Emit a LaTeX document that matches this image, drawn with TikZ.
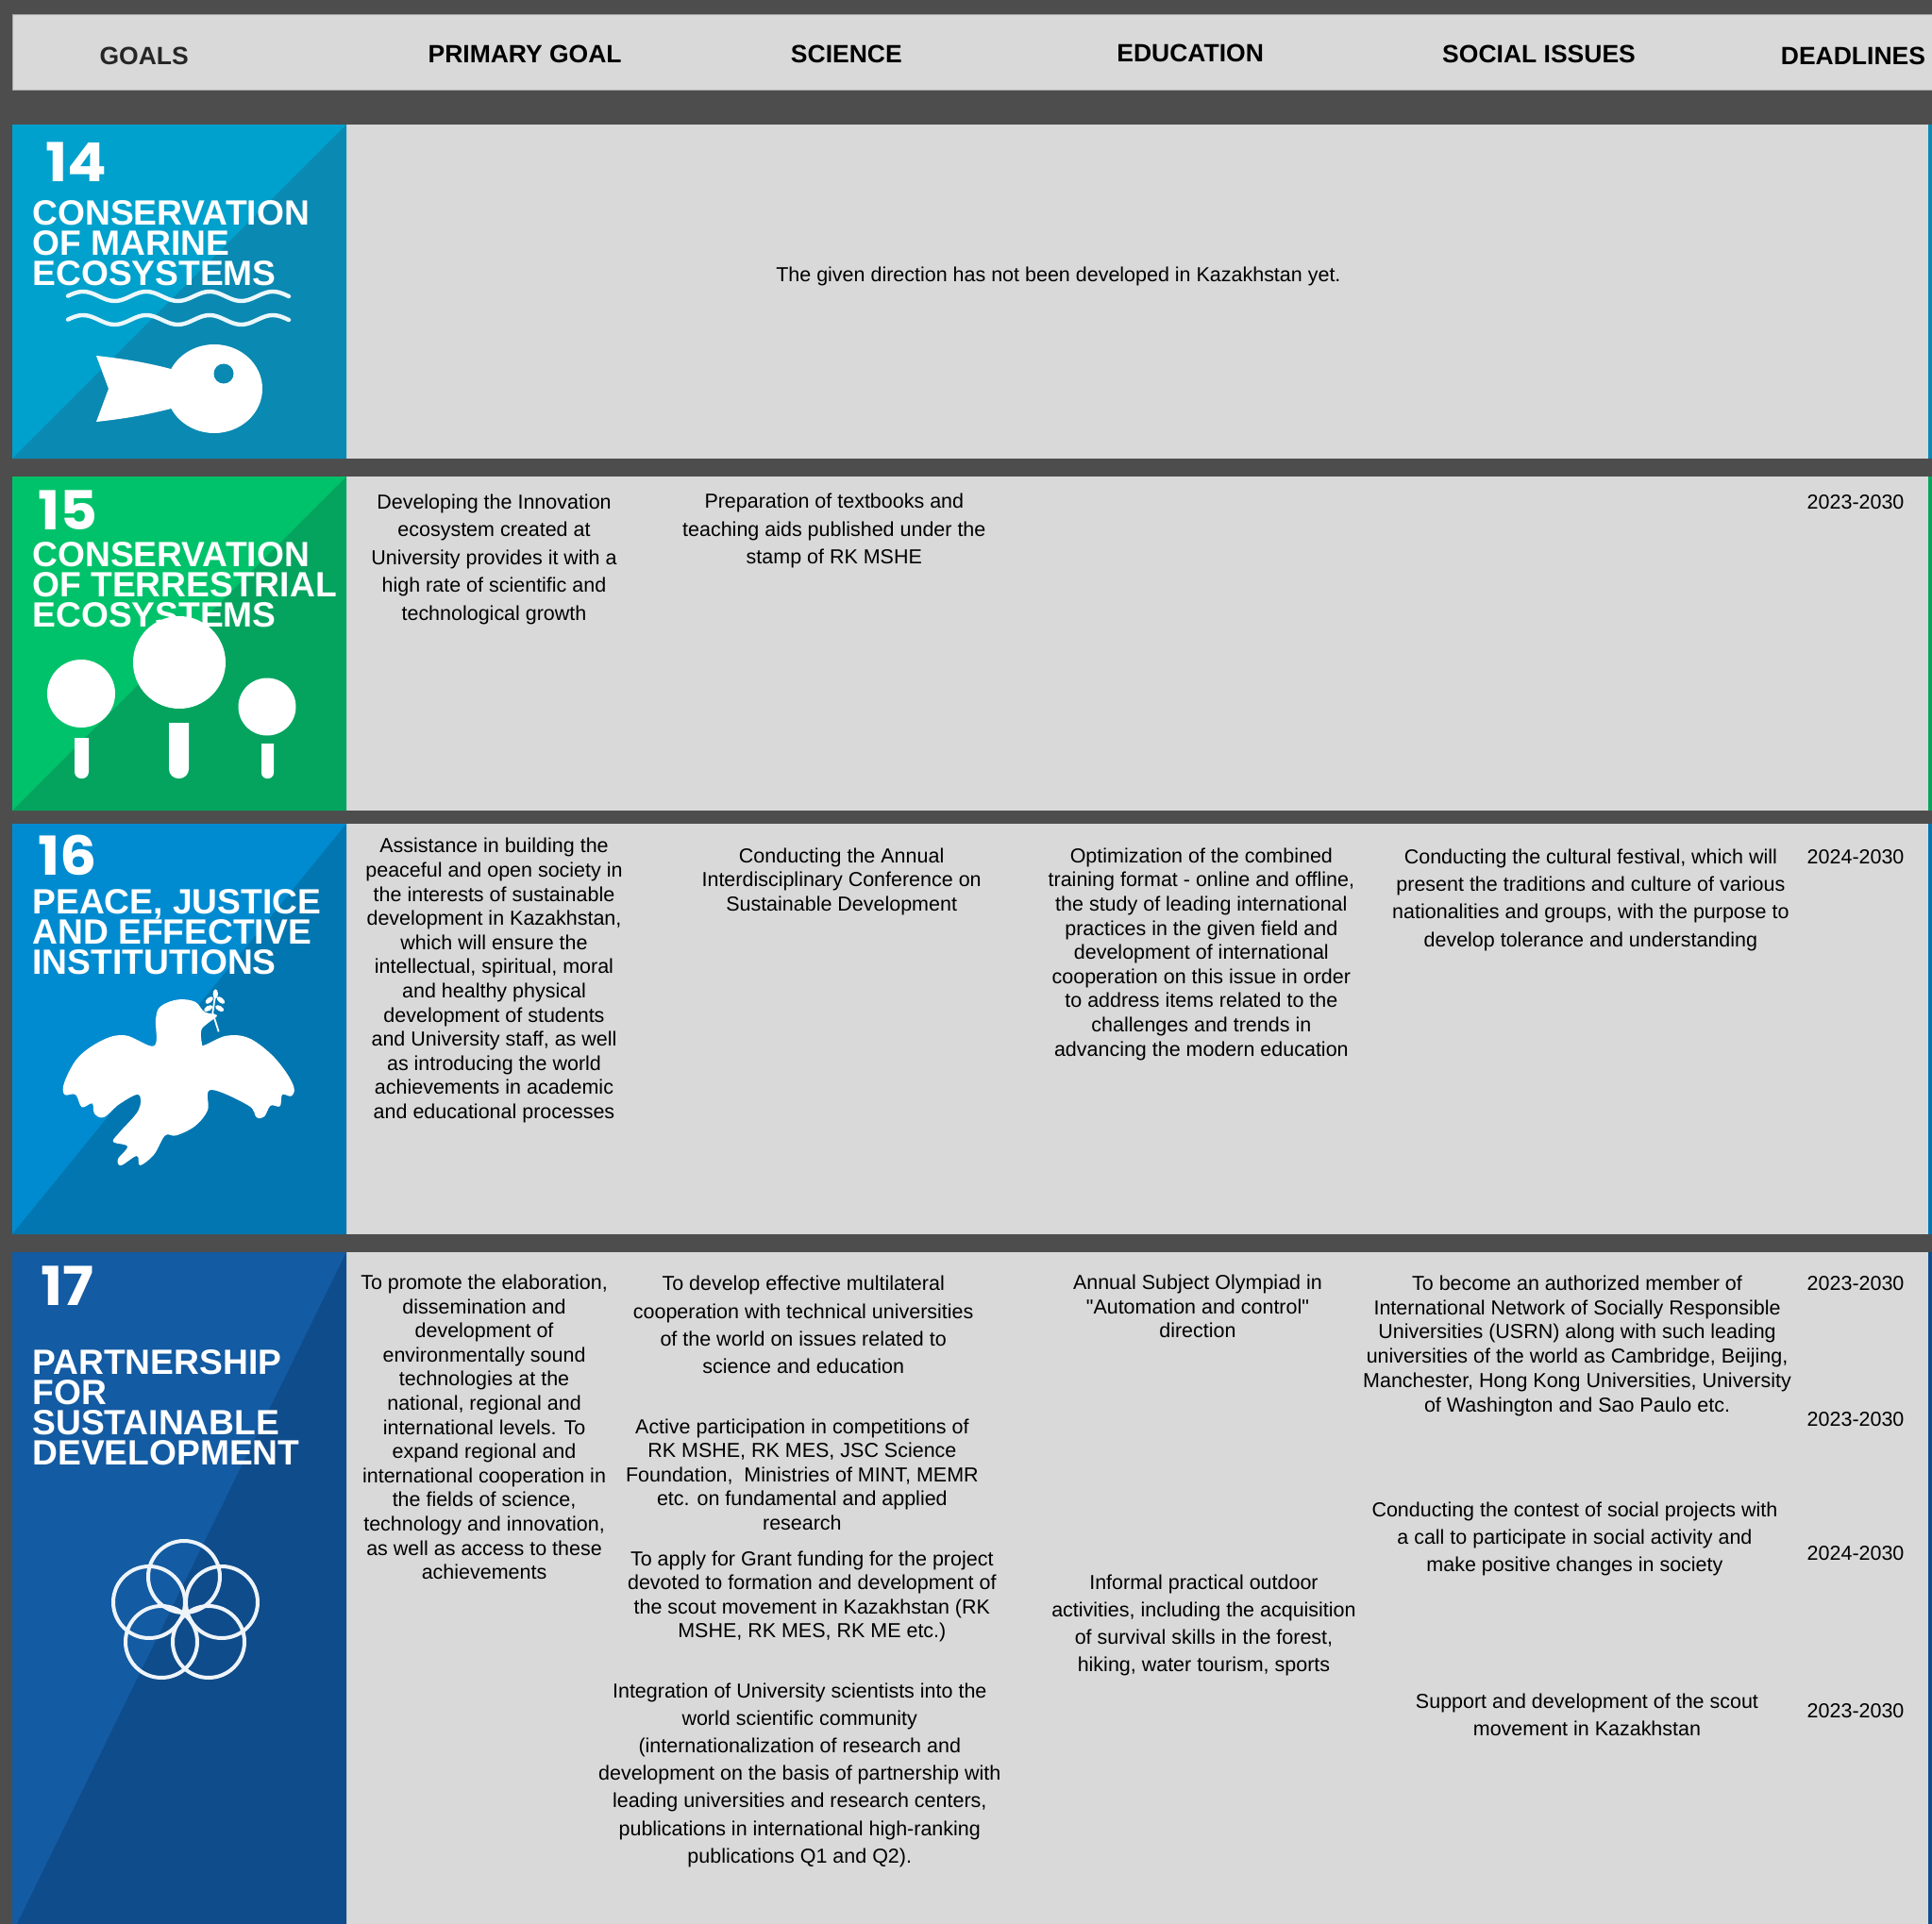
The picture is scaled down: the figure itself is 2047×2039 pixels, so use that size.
\documentclass[tikz,border=0pt]{standalone}
\usepackage{fontspec}
\setmainfont{Liberation Sans}
\newfontfamily\numfont{Poppins}
\newfontfamily\plainq{Liberation Sans}
\definecolor{bgc}{HTML}{4D4D4D}
\definecolor{panelc}{HTML}{D9D9D9}
\definecolor{aL}{HTML}{00A1CC}\definecolor{aD}{HTML}{0A89B2}
\definecolor{bL}{HTML}{00C26A}\definecolor{bD}{HTML}{04A45F}
\definecolor{cL}{HTML}{008BD0}\definecolor{cD}{HTML}{0176B0}
\definecolor{dL}{HTML}{135BA3}\definecolor{dD}{HTML}{0F4C8B}
\tikzset{
  panel/.style={fill=panelc,draw=none},
  headtxt/.style={font=\bfseries\fontsize{13.25pt}{15pt}\selectfont,text=black,inner sep=0pt},
  tiletxt/.style={font=\bfseries\fontsize{18.6pt}{16pt}\selectfont,text=white,inner sep=0pt,align=left,anchor=north west},
  numtxt/.style={font=\numfont\bfseries\fontsize{28.5pt}{30pt}\selectfont,text=white,inner sep=0pt,anchor=base west,xscale=1.08,transform shape},
  iconfill/.style={fill=white,draw=none},
  wave/.style={draw=white!92!aL,line width=2.2pt,line cap=round,smooth},
  ring/.style={draw=white!93!dL,line width=2pt},
}
% block of centred text: name, x, y (in 1568-wide units), line spacing (pt), text
\newcommand{\bk}[5]{\node[inner sep=0pt,align=center,text=black,font=\fontsize{10.74pt}{#4pt}\selectfont] (#1) at ({#2*1.3055},{#3*1.3055}) {#5};}
% bicolour tile: x-end of the diagonal, y top, y bottom, colours
\newcommand{\tile}[5]{\fill[#4] (13,#2) rectangle (367,#3);\fill[#5] (367,#2) -- (#1,#3) -- (367,#3) -- cycle;}
\begin{document}
\begin{tikzpicture}[x=0.5pt,y=-0.5pt]
\useasboundingbox (0,0) rectangle (2047,2039);
\fill[bgc] (0,0) rectangle (2047,2039);
\begin{scope}
\clip (0,0) rectangle (2047,2039);
% header
\fill[panelc,draw=black!35] (13,15) rectangle (2060,95);
\node[headtxt,text=black!85] (hgoals) at ({117*1.3055},{45.5*1.3055}) {GOALS};
\node[headtxt] (hprim) at ({426*1.3055},{44*1.3055}) {PRIMARY GOAL};
\node[headtxt] (hsci) at ({687*1.3055},{44*1.3055}) {SCIENCE};
\node[headtxt] (hedu) at ({966*1.3055},{43*1.3055}) {EDUCATION};
\node[headtxt] (hsoc) at ({1249*1.3055},{44*1.3055}) {SOCIAL ISSUES};
\node[headtxt] (hdead) at ({1504*1.3055},{45.5*1.3055}) {DEADLINES};
% panels and right edge
\fill[aD] (2040,132) rectangle (2047,486);
\fill[bD] (2040,505) rectangle (2047,859);
\fill[cD] (2040,873) rectangle (2047,1308);
\fill[dD] (2040,1327) rectangle (2047,2039);
\fill[panel] (367,132) rectangle (2043,486);
\fill[panel] (367,505) rectangle (2043,859);
\fill[panel] (367,873) rectangle (2043,1308);
\fill[panel] (367,1327) rectangle (2043,2039);
% tiles
\tile{13}{132}{486}{aL}{aD}
\tile{13}{505}{859}{bL}{bD}
\tile{13}{873}{1308}{cL}{cD}
\tile{18}{1327}{2039}{dL}{dD}
% numbers
\node[numtxt] (n14) at (48,192) {14};
\node[numtxt] (n15) at (40,561) {15};
\node[numtxt] (n16) at (40,927) {16};
\node[numtxt] (n17) at (43,1383) {17};
% tile captions
\node[tiletxt] (t14) at (34,212) {CONSERVATION\\OF MARINE\\ECOSYSTEMS};
\node[tiletxt] (t15) at (34,574) {CONSERVATION\\OF TERRESTRIAL\\ECOSYSTEMS};
\node[tiletxt] (t16) at (34,942) {PEACE, JUSTICE\\AND EFFECTIVE\\INSTITUTIONS};
\node[tiletxt] (t17) at (34,1430) {PARTNERSHIP\\FOR\\SUSTAINABLE\\DEVELOPMENT};
% fish and waves
\draw[wave] plot[domain=72:306,samples=80] (\x,{314-5*cos((\x-88)*5.37)});
\draw[wave] plot[domain=72:306,samples=80] (\x,{339-5*cos((\x-88)*5.37)});
\fill[iconfill] (227,412) ellipse [x radius=51,y radius=47];
\fill[iconfill] (102,377) .. controls (130,380) and (155,384) .. (185,392) -- (185,432) .. controls (155,440) and (130,444) .. (102,447) -- (115,412) -- cycle;
\fill[aD] (237,396) circle [radius=10.5];
% trees
\fill[iconfill] (86,735) circle [radius=36];
\fill[iconfill] (190,702) circle [radius=49];
\fill[iconfill] (283,749) circle [radius=30.5];
\fill[iconfill,rounded corners=3.5pt] (79,782) -- (79,825) -- (94,825) -- (94,782);
\fill[iconfill,rounded corners=5pt] (179,766) -- (179,825) -- (200,825) -- (200,766);
\fill[iconfill,rounded corners=3pt] (277,788) -- (277,825) -- (290,825) -- (290,788);
% dove (coordinates of a 3x view of the tile)
\begin{scope}[shift={(0,860)},x=0.16667pt,y=-0.16667pt]
\fill[iconfill] plot[smooth cycle,tension=0.6] coordinates {
 (565,598) (620,605) (650,637) (690,648) (662,672) (640,695) (642,738) (652,742) (720,713) (790,720) (860,770) (910,830) (935,880)
 (925,905) (897,900) (890,937) (860,935) (840,970) (815,972) (790,935) (670,885)
 (660,950) (620,1000) (560,1030) (525,1030) (490,1090) (445,1125) (435,1095) (385,1125) (375,1105) (405,1065) (360,1050) (380,1020) (440,950) (440,900)
 (380,930) (330,972) (300,960) (293,928) (260,940) (240,900) (205,900) (205,860) (250,780) (330,725) (400,712) (490,745)
 (495,660) (510,620)};
\draw[white,line width=0.9pt] (695,700) -- (676,640) -- (685,578);
\foreach \lx/\ly/\la in {665/600/40,702/600/-40,662/626/30,698/626/-30,685/580/90}
  \fill[iconfill,rotate around={\la:(\lx,\ly)}] (\lx,\ly) ellipse [x radius=15,y radius=8];
\end{scope}
% rings
\draw[ring] (195,1671) circle [radius=38];
\draw[ring] (158,1698) circle [radius=38];
\draw[ring] (235,1698) circle [radius=38];
\draw[ring] (171,1740) circle [radius=38];
\draw[ring] (221,1740) circle [radius=38];
% body texts
\bk{r14}{859}{224.5}{14.6}{The given direction has not been developed in Kazakhstan yet.}
\bk{a1}{401}{454}{14.7}{Developing the Innovation\\ecosystem created at\\University provides it with a\\high rate of scientific and\\technological growth}
\bk{a2}{677}{431}{14.7}{Preparation of textbooks and\\teaching aids published under the\\stamp of RK MSHE}
\bk{ad}{1506}{407.5}{14.6}{2023-2030}
\bk{b1}{401}{796}{12.8}{Assistance in building the\\peaceful and open society in\\the interests of sustainable\\development in Kazakhstan,\\which will ensure the\\intellectual, spiritual, moral\\and healthy physical\\development of students\\and University staff, as well\\as introducing the world\\achievements in academic\\and educational processes}
\bk{b2}{683}{715.5}{12.8}{Conducting the Annual\\Interdisciplinary Conference on\\Sustainable Development}
\bk{b3}{975}{774.5}{12.8}{Optimization of the combined\\training format - online and offline,\\the study of leading international\\practices in the given field and\\development of international\\cooperation on this issue in order\\to address items related to the\\challenges and trends in\\advancing the modern education}
\bk{b4}{1291}{730.5}{14.6}{Conducting the cultural festival, which will\\present the traditions and culture of various\\nationalities and groups, with the purpose to\\develop tolerance and understanding}
\bk{bd}{1506}{695.5}{14.6}{2024-2030}
\bk{c1}{393}{1158.5}{12.8}{To promote the elaboration,\\dissemination and\\development of\\environmentally sound\\technologies at the\\national, regional and\\international levels. To\\expand regional and\\international cooperation in\\the fields of science,\\technology and innovation,\\as well as access to these\\achievements}
\bk{c2}{652}{1075.5}{14.6}{To develop effective multilateral\\cooperation with technical universities\\of the world on issues related to\\science and education}
\bk{c3}{651}{1197}{12.8}{Active participation in competitions of\\RK MSHE, RK MES, JSC Science\\Foundation,\ \ Ministries of MINT, MEMR\\etc. on fundamental and applied\\research}
\bk{c4}{659}{1296}{12.8}{To apply for Grant funding for the project\\devoted to formation and development of\\the scout movement in Kazakhstan (RK\\MSHE, RK MES, RK ME etc.)}
\bk{c5}{649}{1441}{14.6}{Integration of University scientists into the\\world scientific community\\(internationalization of research and\\development on the basis of partnership with\\leading universities and research centers,\\publications in international high-ranking\\publications Q1 and Q2).}
\bk{c6}{972}{1060.5}{12.8}{Annual Subject Olympiad in\\{\plainq "Automation and control"}\\direction}
\bk{c7}{977}{1319.5}{14.6}{Informal practical outdoor\\activities, including the acquisition\\of survival skills in the forest,\\hiking, water tourism, sports}
\bk{c8}{1280}{1092.5}{12.9}{To become an authorized member of\\International Network of Socially Responsible\\Universities (USRN) along with such leading\\universities of the world as Cambridge, Beijing,\\Manchester, Hong Kong Universities, University\\of Washington and Sao Paulo etc.}
\bk{c9}{1278}{1249.5}{14.6}{Conducting the contest of social projects with\\a call to participate in social activity and\\make positive changes in society}
\bk{c10}{1288}{1392}{14.6}{Support and development of the scout\\movement in Kazakhstan}
\bk{d1}{1506}{1042}{14.6}{2023-2030}
\bk{d2}{1506}{1152.5}{14.6}{2023-2030}
\bk{d3}{1506}{1261}{14.6}{2024-2030}
\bk{d4}{1506}{1388.5}{14.6}{2023-2030}
\end{scope}
\end{tikzpicture}
\end{document}
